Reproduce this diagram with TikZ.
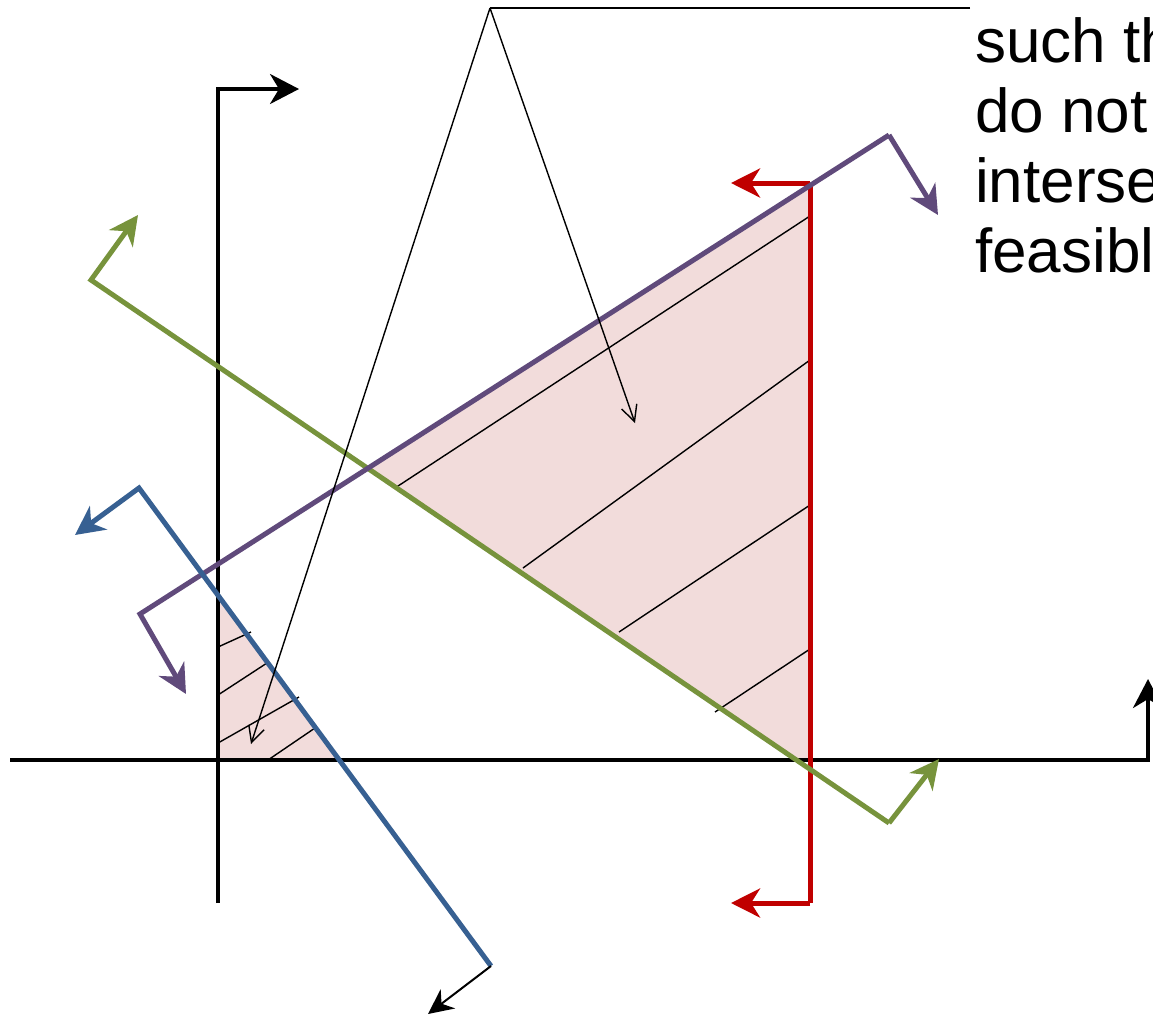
\documentclass[tikz,border=0pt]{standalone}
\usepackage{fontspec}
\setmainfont{Liberation Sans}
\usetikzlibrary{arrows.meta}
\definecolor{cred}{HTML}{C00000}
\definecolor{cpurple}{HTML}{604A7B}
\definecolor{cgreen}{HTML}{77933C}
\definecolor{cblue}{HTML}{376092}
\definecolor{cpink}{HTML}{F2DCDB}
\tikzset{
  thick line/.style={line width=5pt, line join=miter},
  axisline/.style={line width=3.5pt, black},
  hatch/.style={line width=1.4pt, black},
  callout/.style={line width=1.4pt, black},
  bighead/.style={-{Stealth[length=29pt,width=29pt,inset=9pt]}},
  axishead/.style={-{Stealth[length=29pt,width=30pt,inset=9pt]}},
  smallhead/.style={-{Stealth[length=25pt,width=24pt,inset=8pt]}},
  openhead/.style={-{Straight Barb[length=16pt,width=16pt]}},
  txt/.style={font=\fontsize{62}{71}\selectfont, anchor=base west, inner sep=0pt}
}
\begin{document}
\begin{tikzpicture}[x=1pt,y=-1pt]
\useasboundingbox (0,0) rectangle (1153,1018);
\clip (0,0) rectangle (1153,1018);
% key points
\coordinate (PG) at (367.7,468.3);
\coordinate (PR) at (810,185.5);
\coordinate (RA) at (810,760);
\coordinate (GA) at (796,760);
\coordinate (BV) at (218,596.3);
\coordinate (BA) at (339,760);
\coordinate (O) at (218,760);
% shaded regions
\fill[cpink] (PG) -- (PR) -- (RA) -- (GA) -- cycle;
\fill[cpink] (BV) -- (BA) -- (O) -- cycle;
% hatch lines
\coordinate (h1a) at (395,488); \coordinate (h1b) at (810,216);
\coordinate (h2a) at (523,568); \coordinate (h2b) at (810,360);
\coordinate (h3a) at (619,632); \coordinate (h3b) at (810,505);
\coordinate (h4a) at (715,712); \coordinate (h4b) at (810,649);
\coordinate (s1a) at (218,647); \coordinate (s1b) at (251,632);
\coordinate (s2a) at (218,695); \coordinate (s2b) at (267,663);
\coordinate (s3a) at (218,743); \coordinate (s3b) at (299,697);
\coordinate (s4a) at (268,760); \coordinate (s4b) at (315,728);
\foreach \n in {h1,h2,h3,h4,s1,s2,s3,s4}
  \draw[hatch] (\n a) -- (\n b);
% axes
\coordinate (yb) at (218,903);
\coordinate (yt) at (218,89);
\coordinate (ytip) at (299,89);
\coordinate (xl) at (10,760);
\coordinate (xr) at (1148,760);
\coordinate (xtip) at (1148,679);
\draw[axisline, axishead] (yb) -- (yt) -- (ytip);
\draw[axisline, axishead] (xl) -- (xr) -- (xtip);
% red constraint
\coordinate (rt) at (810,183);
\coordinate (rttip) at (731,183);
\coordinate (rb) at (810,903);
\coordinate (rbtip) at (731,903);
\draw[thick line, cred] (rt) -- (rb);
\draw[thick line, cred, bighead] (rt) -- (rttip);
\draw[thick line, cred, bighead] (rb) -- (rbtip);
% green constraint
\coordinate (g1) at (91,280);
\coordinate (g1tip) at (138,215);
\coordinate (g2) at (889,823);
\coordinate (g2tip) at (939,759);
\draw[thick line, cgreen, bighead] (g2) -- (g1) -- (g1tip);
\draw[thick line, cgreen, bighead] (g2) -- (g2tip);
% purple constraint
\coordinate (p1) at (140,614);
\coordinate (p1tip) at (186,694);
\coordinate (p2) at (889,135);
\coordinate (p2tip) at (938,215);
\draw[thick line, cpurple, bighead] (p2) -- (p1) -- (p1tip);
\draw[thick line, cpurple, bighead] (p2) -- (p2tip);
% blue constraint
\coordinate (b1) at (139,488);
\coordinate (b1tip) at (75,535);
\coordinate (b2) at (491,966);
\coordinate (b2tip) at (428,1014);
\draw[thick line, cblue, bighead] (b2) -- (b1) -- (b1tip);
\draw[line width=2pt, black, smallhead] (b2) -- (b2tip);
% callout
\coordinate (c0) at (490,8);
\coordinate (c1) at (970,8);
\coordinate (ca) at (635,423);
\coordinate (cb) at (251,744);
\draw[callout] (c1) -- (c0);
\draw[callout, openhead] (c0) -- (ca);
\draw[callout, openhead] (c0) -- (cb);
% text
\node[txt] (t1) at (975,62) {such that};
\node[txt] (t2) at (975,132) {do not};
\node[txt] (t3) at (975,202) {intersect};
\node[txt] (t4) at (975,272) {feasible};
\end{tikzpicture}
\end{document}
